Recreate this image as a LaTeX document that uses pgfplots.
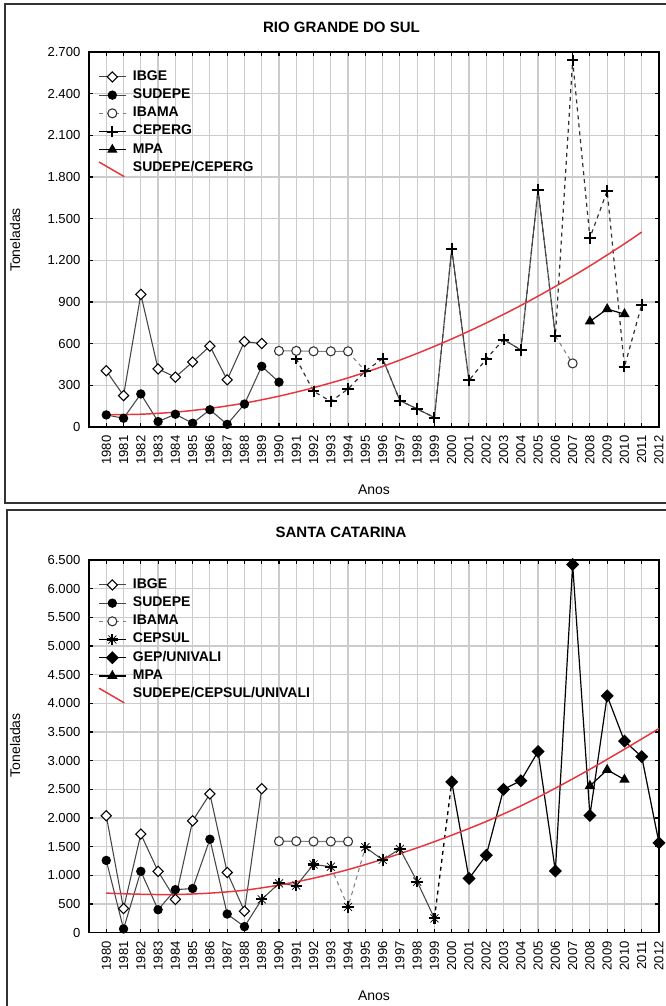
\documentclass[border=0pt]{standalone}
\usepackage{pgfplots}
\pgfplotsset{compat=1.18}
\usepackage{fontspec}
\setmainfont{Liberation Sans}
\definecolor{trend}{RGB}{232,52,60}
\definecolor{ln}{RGB}{70,70,70}
\pgfdeclareplotmark{plusx}{%
 \pgfsetlinewidth{1.6pt}%
 \pgfpathmoveto{\pgfqpoint{-\pgfplotmarksize}{0pt}}\pgfpathlineto{\pgfqpoint{\pgfplotmarksize}{0pt}}%
 \pgfpathmoveto{\pgfqpoint{0pt}{-\pgfplotmarksize}}\pgfpathlineto{\pgfqpoint{0pt}{\pgfplotmarksize}}%
 \pgfusepathqstroke
 \pgfsetlinewidth{0.5pt}%
 \pgfpathmoveto{\pgfqpoint{-.7\pgfplotmarksize}{-.7\pgfplotmarksize}}\pgfpathlineto{\pgfqpoint{.7\pgfplotmarksize}{.7\pgfplotmarksize}}%
 \pgfpathmoveto{\pgfqpoint{-.7\pgfplotmarksize}{.7\pgfplotmarksize}}\pgfpathlineto{\pgfqpoint{.7\pgfplotmarksize}{-.7\pgfplotmarksize}}%
 \pgfusepathqstroke
}
\pgfplotsset{
 panel/.style={
  scale only axis, width=427.5pt,
  xmin=1979, xmax=2012, xtick={1980,...,2012},
  grid=major, major grid style={gray!40, line width=0.9pt},
  axis line style={line width=1.1pt},
  tick align=inside, major tick length=3pt,
  tick style={black, line width=0.8pt},
  /pgf/number format/assume math mode=true,
  tick label style={font=\fontsize{9.8}{11}\selectfont},
  xticklabel style={rotate=90, anchor=east, /pgf/number format/1000 sep={}},
  yticklabel style={/pgf/number format/1000 sep={.}},
  xticklabel shift=3pt, yticklabel shift=3pt,
  legend image code/.code={\draw[mark repeat=2,mark phase=2,##1] plot coordinates {(0pt,0pt)(10pt,0pt)(20pt,0pt)};},
  legend cell align=left,
  legend style={at={(0,1)}, anchor=north west, xshift=6.75pt, yshift=-13.5pt,
   draw=none, fill=none, inner sep=0pt,
   font=\bfseries\fontsize{10.5}{12}\selectfont,
   nodes={inner sep=0pt, text height=7.5pt, text depth=2.5pt},
   row sep=3.65pt, column sep=5pt},
 },
 diag legend/.style={legend image code/.code={\draw[##1] (0pt,4.5pt)--(19pt,-6.5pt);}},
 ibge/.style={ln, line width=0.8pt, mark=square*, mark size=2.7pt, mark options={rotate=45, fill=white, draw=black, solid, line width=0.8pt}},
 sudepe/.style={ln, line width=0.8pt, mark=*, mark size=3.1pt, mark options={fill=black, draw=black, solid}},
 ibama/.style={gray, line width=0.8pt, mark=*, mark size=3.4pt, mark options={fill=white, draw=black!80, solid, line width=0.8pt}},
 ceperg/.style={black!80, line width=0.9pt, dashed, mark=+, mark size=4.3pt, mark options={solid, black, line width=1.5pt}},
 cepsul/.style={ln, line width=0.8pt, mark=plusx, mark size=4.3pt, mark options={solid, black}},
 gep/.style={black, line width=0.9pt, mark=square*, mark size=3pt, mark options={rotate=45, fill=black, solid}},
 mpa/.style={black, line width=0.9pt, mark=triangle*, mark size=3.6pt, mark options={fill=black, solid}},
 trendl/.style={trend, line width=1.1pt, smooth, no marks},
}
\begin{document}
\begin{tikzpicture}
\useasboundingbox (0,0) rectangle (498.75pt,-754.5pt);
% frames
\draw[black!80, line width=1.5pt] (3.75pt,-3pt) rectangle (505pt,-377.25pt);
\draw[black!80, line width=1.5pt] (5.25pt,-382.5pt) rectangle (505pt,-760pt);
% ---------------- top panel
\node[font=\bfseries\fontsize{11.25}{13}\selectfont] at (256.1pt,-20.25pt) {RIO GRANDE DO SUL};
\node[font=\fontsize{10.5}{12}\selectfont] at (280.5pt,-367.5pt) {Anos};
\node[font=\fontsize{10.5}{12}\selectfont, rotate=90] at (11.25pt,-180pt) {Toneladas};
\begin{axis}[panel, at={(66.75pt,-39pt)}, anchor=north west, height=281.25pt,
  ymin=0, ymax=2700, ytick={0,300,...,2700}]
\addlegendimage{ibge}\addlegendentry{IBGE}
\addlegendimage{sudepe}\addlegendentry{SUDEPE}
\addlegendimage{ibama, dashed}\addlegendentry{IBAMA}
\addlegendimage{draw=none, mark=+, mark size=4.3pt, mark options={draw=black, line width=1.5pt}}\addlegendentry{CEPERG}
\addlegendimage{mpa}\addlegendentry{MPA}
\addlegendimage{trendl, diag legend}\addlegendentry{SUDEPE/CEPERG}
% connectors
\addplot[forget plot, gray, dashed, line width=0.8pt] coordinates {(1994,540)(1995,403)};
\addplot[forget plot, gray, dashed, line width=0.8pt] coordinates {(2006,655)(2007,455)};
\addplot[forget plot, ceperg] coordinates {(1991,492)(1992,257)(1993,184)(1994,274)(1995,403)(1996,492)(1997,190)(1998,130)(1999,68)(2000,1280)(2001,335)(2002,490)(2003,630)(2004,555)(2005,1710)(2006,655)(2007,2640)(2008,1362)(2009,1700)(2010,434)(2011,880)};
\addplot[forget plot, ln, solid, line width=0.8pt] coordinates {(1996,492)(1997,190)(1998,130)(1999,68)(2000,1280)(2001,335)};
\addplot[forget plot, ln, solid, line width=0.8pt] coordinates {(2003,630)(2004,555)(2005,1710)(2006,655)};
\addplot[forget plot, ceperg, draw=none] coordinates {(1991,492)(1992,257)(1993,184)(1994,274)(1995,403)(1996,492)(1997,190)(1998,130)(1999,68)(2000,1280)(2001,335)(2002,490)(2003,630)(2004,555)(2005,1710)(2006,655)(2007,2640)(2008,1362)(2009,1700)(2010,434)(2011,880)};
\addplot[forget plot, ibge] coordinates {(1980,405)(1981,226)(1982,955)(1983,418)(1984,359)(1985,468)(1986,582)(1987,340)(1988,615)(1989,601)};
\addplot[forget plot, sudepe] coordinates {(1980,87)(1981,63)(1982,238)(1983,39)(1984,92)(1985,27)(1986,124)(1987,19)(1988,165)(1989,437)(1990,323)};
\addplot[forget plot, ibama] coordinates {(1990,548)(1991,548)(1992,545)(1993,545)(1994,545)};
\addplot[forget plot, ibama, only marks] coordinates {(2007,458)};
\addplot[forget plot, mpa] coordinates {(2008,760)(2009,849)(2010,813)};
\addplot[forget plot, trendl] coordinates {(1980,88)(1982,92)(1984,107)(1986,134)(1988,172)(1990,222)(1992,283)(1994,354)(1996,436)(1998,530)(2000,634)(2002,749)(2004,875)(2006,1012)(2008,1160)(2010,1319)(2011,1404)};
\end{axis}
% ---------------- bottom panel
\node[font=\bfseries\fontsize{11.25}{13}\selectfont] at (255.75pt,-399pt) {SANTA CATARINA};
\node[font=\fontsize{10.5}{12}\selectfont] at (280.5pt,-747pt) {Anos};
\node[font=\fontsize{10.5}{12}\selectfont, rotate=90] at (11.25pt,-559pt) {Toneladas};
\begin{axis}[panel, at={(66.75pt,-420pt)}, anchor=north west, height=279.5pt,
  ymin=0, ymax=6500, ytick={0,500,...,6500}]
\addlegendimage{ibge}\addlegendentry{IBGE}
\addlegendimage{sudepe}\addlegendentry{SUDEPE}
\addlegendimage{ibama, dashed}\addlegendentry{IBAMA}
\addlegendimage{draw=none, mark=plusx, mark size=4.3pt, mark options={draw=black}}\addlegendentry{CEPSUL}
\addlegendimage{gep}\addlegendentry{GEP/UNIVALI}
\addlegendimage{mpa}\addlegendentry{MPA}
\addlegendimage{trendl, diag legend}\addlegendentry{SUDEPE/CEPSUL/UNIVALI}
\addplot[forget plot, ln, line width=0.8pt] coordinates {(1988,105)(1989,580)};
\addplot[forget plot, black, dashed, line width=1pt] coordinates {(1999,250)(2000,2630)};
\addplot[forget plot, gray, dashed, line width=0.8pt] coordinates {(1993,1150)(1994,450)(1995,1490)};
\addplot[forget plot, cepsul] coordinates {(1989,580)(1990,860)(1991,820)(1992,1190)(1993,1150)};
\addplot[forget plot, cepsul] coordinates {(1995,1490)(1996,1270)(1997,1460)(1998,890)(1999,250)};
\addplot[forget plot, cepsul, only marks] coordinates {(1994,450)};
\addplot[forget plot, ibge] coordinates {(1980,2040)(1981,420)(1982,1720)(1983,1070)(1984,580)(1985,1950)(1986,2420)(1987,1050)(1988,375)(1989,2510)};
\addplot[forget plot, sudepe] coordinates {(1980,1260)(1981,65)(1982,1070)(1983,400)(1984,750)(1985,770)(1986,1630)(1987,325)(1988,105)};
\addplot[forget plot, ibama] coordinates {(1990,1595)(1991,1595)(1992,1590)(1993,1590)(1994,1590)};
\addplot[forget plot, gep] coordinates {(2000,2630)(2001,945)(2002,1350)(2003,2500)(2004,2650)(2005,3160)(2006,1075)(2007,6420)(2008,2045)(2009,4130)(2010,3340)(2011,3070)(2012,1565)};
\addplot[forget plot, mpa] coordinates {(2008,2560)(2009,2840)(2010,2670)};
\addplot[forget plot, trendl] coordinates {(1980,690)(1982,670)(1984,665)(1986,690)(1988,740)(1990,830)(1992,950)(1994,1100)(1996,1280)(1998,1480)(2000,1700)(2002,1940)(2004,2210)(2006,2520)(2008,2850)(2010,3200)(2012,3560)};
\end{axis}
\end{tikzpicture}
\end{document}
